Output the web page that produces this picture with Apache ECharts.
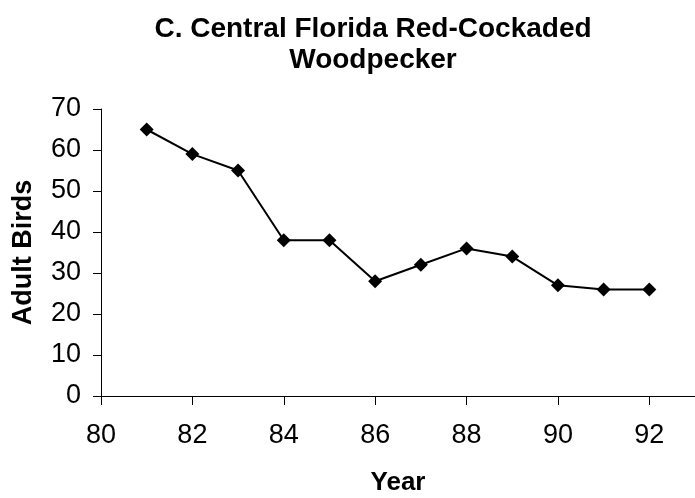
<!DOCTYPE html>
<html>
<head>
<meta charset="utf-8">
<script src="https://cdn.jsdelivr.net/npm/echarts@6/dist/echarts.min.js"></script>
<style>html,body{margin:0;padding:0;background:#fff;}#chart{width:695px;height:498px;}</style>
</head>
<body>
<div id="chart"></div>
<script>
var titleText = 'C. Central Florida Red-Cockaded\nWoodpecker';
var years = [81, 82, 83, 84, 85, 86, 87, 88, 89, 90, 91, 92];
var adultBirds = [65, 59, 55, 38, 38, 28, 32, 36, 34, 27, 26, 26];
var xTickValues = [80, 82, 84, 86, 88, 90, 92];
var yTickValues = [0, 10, 20, 30, 40, 50, 60, 70];

var FONT = '"Liberation Sans", Arial, sans-serif';
var chart = echarts.init(document.getElementById('chart'), null, {renderer: 'canvas'});
var seriesData = years.map(function (y, i) { return [y, adultBirds[i]]; });

chart.setOption({
  animation: false,
  backgroundColor: '#ffffff',
  title: {
    text: titleText,
    left: 368,
    top: 9,
    textAlign: 'center',
    textStyle: {fontFamily: FONT, fontSize: 28, fontWeight: 'bold', color: '#000', lineHeight: 31}
  },
  grid: {left: 101, right: 0, top: 109, bottom: 102, containLabel: false, outerBoundsMode: 'none'},
  xAxis: {
    type: 'value',
    min: 80, max: 93, interval: 2,
    name: 'Year',
    nameLocation: 'middle',
    nameGap: 74,
    nameTextStyle: {fontFamily: FONT, fontSize: 26, fontWeight: 'bold', color: '#000'},
    axisLine: {show: true, onZero: false, lineStyle: {color: '#000', width: 1}},
    axisTick: {show: true, length: 9, lineStyle: {color: '#000'}, customValues: xTickValues},
    axisLabel: {fontFamily: FONT, fontSize: 27, color: '#000', margin: 26, customValues: xTickValues},
    splitLine: {show: false}
  },
  yAxis: {
    type: 'value',
    min: 0, max: 70, interval: 10,
    name: 'Adult Birds',
    nameLocation: 'middle',
    nameGap: 64,
    nameTextStyle: {fontFamily: FONT, fontSize: 27, fontWeight: 'bold', color: '#000'},
    axisLine: {show: true, lineStyle: {color: '#000', width: 1}},
    axisTick: {show: true, length: 8, lineStyle: {color: '#000'}, customValues: yTickValues},
    axisLabel: {fontFamily: FONT, fontSize: 27, color: '#000', margin: 20, customValues: yTickValues},
    splitLine: {show: false}
  },
  series: [{
    type: 'line',
    data: seriesData,
    symbol: 'diamond',
    symbolSize: 14,
    lineStyle: {color: '#000', width: 2},
    itemStyle: {color: '#000', borderWidth: 0}
  }]
});
</script>
</body>
</html>
